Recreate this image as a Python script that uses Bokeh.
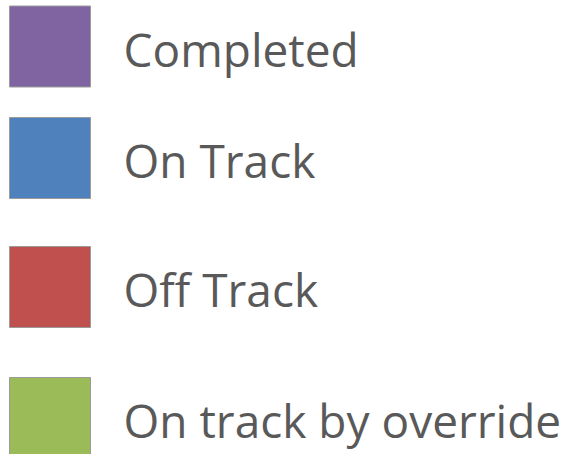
from bokeh.plotting import figure
from bokeh.models import ColumnDataSource, Range1d
from bokeh.core.properties import value
from bokeh.embed import file_html
from bokeh.resources import INLINE

# Legend content
categories = ["Completed", "On Track", "Off Track", "On track by override"]
colors = ["#8064A2", "#4F81BD", "#C0504D", "#9BBB59"]

# Layout (pixel positions of each row's swatch centre)
row_centers = [46, 157.5, 286.5, 417.5]
SWATCH_X = 49.5
SWATCH_SIZE = 81
TEXT_X = 123
BASELINE_OFFSET = 2

W, H = 571, 454
src = ColumnDataSource(dict(
    cat=categories,
    color=colors,
    y=row_centers,
    x=[SWATCH_X] * len(categories),
    tx=[TEXT_X] * len(categories),
    ty=[c + BASELINE_OFFSET for c in row_centers],
))

p = figure(width=W, height=H, output_backend="svg", toolbar_location=None,
           x_range=Range1d(0, W), y_range=Range1d(H, 0), min_border=0,
           background_fill_color="white", border_fill_color="white")
p.axis.visible = False
p.grid.visible = False
p.outline_line_color = None

p.rect(x="x", y="y", width=SWATCH_SIZE, height=SWATCH_SIZE, source=src,
       fill_color="color", line_color="#9a9a9a", line_width=1)
p.text(x="tx", y="ty", text="cat", source=src,
       text_font=value("Open Sans"), text_font_size="46px",
       text_color="#595959", text_baseline="alphabetic", text_align="left")

open("out.html", "w").write(file_html(p, INLINE))
